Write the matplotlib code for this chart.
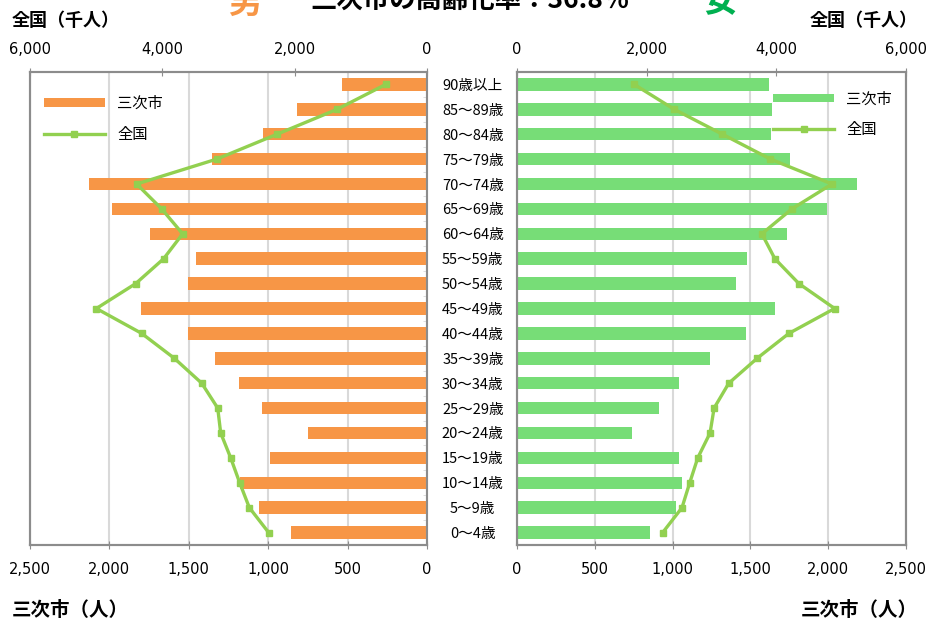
import matplotlib
matplotlib.use("Agg")
import matplotlib.pyplot as plt
from matplotlib.ticker import FuncFormatter, MultipleLocator

plt.rcParams['font.family'] = ['Noto Sans CJK JP', 'DejaVu Sans']

ages = ["0〜4歳", "5〜9歳", "10〜14歳", "15〜19歳", "20〜24歳", "25〜29歳",
        "30〜34歳", "35〜39歳", "40〜44歳", "45〜49歳", "50〜54歳", "55〜59歳",
        "60〜64歳", "65〜69歳", "70〜74歳", "75〜79歳", "80〜84歳", "85〜89歳",
        "90歳以上"]

# 三次市 (persons)
male_city = [858, 1058, 1178, 989, 747, 1041, 1182, 1335, 1505, 1801,
             1505, 1455, 1744, 1984, 2128, 1352, 1031, 817, 533]
female_city = [852, 1022, 1058, 1039, 739, 912, 1043, 1241, 1473, 1657,
               1408, 1479, 1737, 1994, 2185, 1754, 1632, 1636, 1621]

# 全国 (thousand persons)
male_nat = [2393, 2685, 2831, 2967, 3118, 3163, 3405, 3819, 4312, 4997,
            4403, 3980, 3693, 4010, 4388, 3179, 2267, 1360, 624]
female_nat = [2247, 2545, 2664, 2788, 2978, 3040, 3267, 3704, 4194, 4899,
              4348, 3977, 3777, 4240, 4858, 3910, 3168, 2426, 1808]

ORANGE = "#F79646"
GREEN_BAR = "#77DD77"
GREEN_LINE = "#92D050"
SPINE = "#8C8C8C"
GRID = "#D9D9D9"

fig = plt.figure(figsize=(9.27, 6.23), dpi=100)
ax_l = fig.add_axes([30 / 927, 1 - 545 / 623, 397 / 927, 473 / 623])
ax_r = fig.add_axes([517 / 927, 1 - 545 / 623, 389 / 927, 473 / 623])

y = list(range(len(ages)))
fmt = FuncFormatter(lambda v, p: f"{int(v):,}")
num_font = dict(family=['Liberation Sans Narrow', 'DejaVu Sans'], size=10.5)


def setup(ax, bars, nat, color):
    ax.barh(y, bars, height=0.5, color=color, label="三次市", zorder=2)
    ax.set_xlim(0, 2500)
    ax.set_ylim(-0.5, len(ages) - 0.5)
    ax.xaxis.set_major_locator(MultipleLocator(500))
    ax.xaxis.set_major_formatter(fmt)
    ax.grid(axis='x', color=GRID, linewidth=1.5, zorder=0)
    ax.set_axisbelow(True)
    ax.tick_params(axis='x', direction='inout', length=6, color=SPINE, pad=9)
    for t in ax.get_xticklabels():
        t.set(**num_font)
    for s in ax.spines.values():
        s.set_color(SPINE)
        s.set_linewidth(1.5)

    tw = ax.twiny()
    tw.plot(nat, y, color=GREEN_LINE, linewidth=2.4, marker='s',
            markersize=5, label="全国", zorder=3)
    tw.set_xlim(0, 6000)
    tw.xaxis.set_major_locator(MultipleLocator(2000))
    tw.xaxis.set_major_formatter(fmt)
    tw.tick_params(axis='x', direction='inout', length=6, color=SPINE, pad=8)
    for t in tw.get_xticklabels():
        t.set(**num_font)
    for s in tw.spines.values():
        s.set_color(SPINE)
        s.set_linewidth(1.5)
    return tw


tw_l = setup(ax_l, male_city, male_nat, ORANGE)
tw_r = setup(ax_r, female_city, female_nat, GREEN_BAR)

ax_l.invert_xaxis()
tw_l.invert_xaxis()

# category labels between the two halves
ax_l.yaxis.tick_right()
ax_l.set_yticks(y)
ax_l.set_yticklabels(ages, ha='center', fontsize=10.5)
ax_l.tick_params(axis='y', which='major', length=0, pad=33)
ax_l.set_yticks([v + 0.5 for v in y[:-1]], minor=True)
ax_l.tick_params(axis='y', which='minor', length=3, color=GRID, direction='in')
ax_l.spines['right'].set_color(GRID)
ax_r.tick_params(axis='y', left=False, labelleft=False)

# legends
for ax, tw, loc, anchor in [(ax_l, tw_l, 'upper left', (0.0, 0.98)),
                            (ax_r, tw_r, 'upper right', (1.0, 0.99))]:
    h1, l1 = ax.get_legend_handles_labels()
    h2, l2 = tw.get_legend_handles_labels()
    tw.legend(h1 + h2, l1 + l2, loc=loc, bbox_to_anchor=anchor, frameon=False,
              fontsize=11, handlelength=4.0, handleheight=0.5,
              labelspacing=0.9)

# axis titles
fig.text(12 / 927, 1 - 20 / 623, "全国（千人）", ha='left', va='center',
         fontsize=13, fontweight='bold')
fig.text(918 / 927, 1 - 20 / 623, "全国（千人）", ha='right', va='center',
         fontsize=13, fontweight='bold')
fig.text(12 / 927, 1 - 611 / 623, "三次市（人）", ha='left', va='center',
         fontsize=14, fontweight='bold')
fig.text(918 / 927, 1 - 611 / 623, "三次市（人）", ha='right', va='center',
         fontsize=14, fontweight='bold')

# title (cut off at the top like the original)
fig.text(245 / 927, 1 - 3 / 623, "男", ha='center', va='center', fontsize=24,
         fontweight='bold', color=ORANGE)
fig.text(720 / 927, 1 - 3 / 623, "女", ha='center', va='center', fontsize=24,
         fontweight='bold', color="#00B050")
fig.text(470 / 927, 1 - 1 / 623, "三次市の高齢化率：36.8％", ha='center',
         va='center', fontsize=19, fontweight='bold')

fig.savefig("out.png", dpi=100)
